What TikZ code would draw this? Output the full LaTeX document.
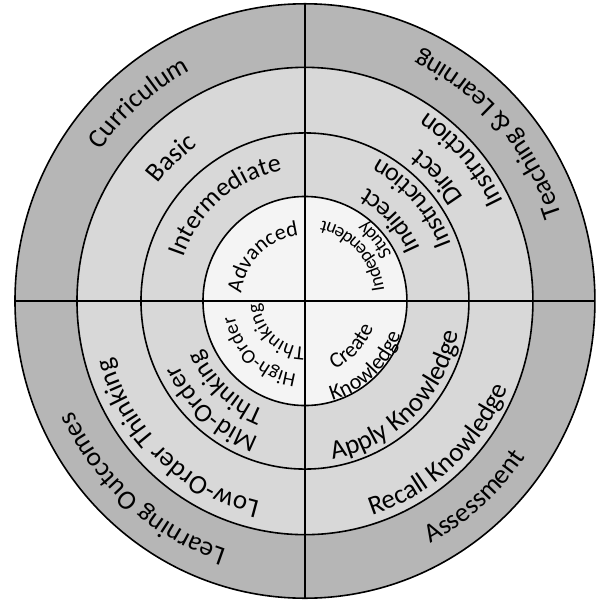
\documentclass[tikz,border=0pt]{standalone}
\usepackage{fontspec}
\setmainfont{Carlito}
\usetikzlibrary{decorations.text}
\definecolor{outerGray}{HTML}{B6B6B6}
\definecolor{midGray}{HTML}{D8D8D8}
\definecolor{coreGray}{HTML}{F4F4F4}

% text on an arc: radius, middle angle, font size, text
\newcommand{\cwtext}[4]{\path[decorate, decoration={text along path, text align=center,
    text={|\fontsize{#3}{#3}\selectfont|#4}}] ({#2+80}:#1) arc[start angle=#2+80, end angle=#2-80, radius=#1];}
\newcommand{\ccwtext}[4]{\path[decorate, decoration={text along path, text align=center,
    text={|\fontsize{#3}{#3}\selectfont|#4}}] ({#2-80}:#1) arc[start angle=#2-80, end angle=#2+80, radius=#1];}

\begin{document}
\begin{tikzpicture}[x=1pt, y=1.025pt]
    \useasboundingbox (-305,-301.5) rectangle (291,293.7);
    \fill[outerGray] (0,0) circle[radius=290];
    \fill[midGray] (0,0) circle[radius=228];
    \fill[coreGray] (0,0) circle[radius=102];
    \foreach \r in {102,164,228,290}
        \draw[line width=1.6pt] (0,0) circle[radius=\r];
    \draw[line width=1.4pt] (-290,0) -- (290,0);
    \draw[line width=1.4pt] (0,-290) -- (0,290);
    % upper left
    \cwtext{252}{130}{27}{Curriculum}
    \cwtext{186}{133}{27}{Basic}
    \cwtext{129}{130}{26}{Intermediate}
    \cwtext{64}{134}{22}{Advanced}
    % upper right
    \ccwtext{270}{42}{27}{Teaching {\&} Learning}
    \ccwtext{221}{42}{27}{Instruction}
    \ccwtext{188}{43}{27}{Direct}
    \ccwtext{157}{42}{26}{Instruction}
    \ccwtext{126}{43}{26}{Indirect}
    \ccwtext{98}{41}{19}{Study}
    \ccwtext{80}{43}{19}{Independent}
    % lower left
    \cwtext{255}{229}{27}{Learning Outcomes}
    \cwtext{201}{227}{27}{Low-Order Thinking}
    \cwtext{141}{229}{26}{Mid-Order}
    \cwtext{114}{227.5}{26}{Thinking}
    \cwtext{72}{228}{20}{High-Order}
    \cwtext{45}{227}{20}{Thinking}
    % lower right
    \ccwtext{268}{311}{27}{Assessment}
    \ccwtext{220}{312}{27}{Recall Knowledge}
    \ccwtext{157}{314}{27}{Apply Knowledge}
    \ccwtext{73}{316}{22}{Create}
    \ccwtext{101}{313}{22}{Knowledge}
\end{tikzpicture}
\end{document}
